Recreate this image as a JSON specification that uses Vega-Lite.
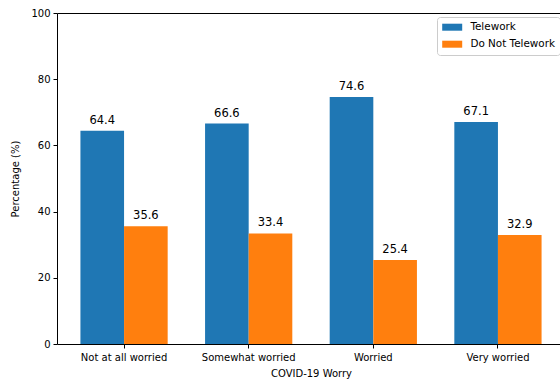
{
  "$schema": "https://vega.github.io/schema/vega-lite/v6.json",
  "autosize": {"type": "none"},
  "padding": {"left": 57, "top": 13, "right": 0, "bottom": 39},
  "width": 503,
  "height": 331,
  "config": {
    "font": "DejaVu Sans",
    "view": {"stroke": null},
    "axis": {
      "grid": false,
      "domainColor": "#000000",
      "domainWidth": 1,
      "tickColor": "#000000",
      "tickSize": 4,
      "labelColor": "#000000",
      "labelFontSize": 10,
      "titleFontSize": 10,
      "titleFontWeight": "normal",
      "titleColor": "#000000"
    },
    "legend": {
      "labelFontSize": 10,
      "labelColor": "#000000"
    }
  },
  "data": {
    "values": [
      {"worry": "Not at all worried", "group": "Telework", "pct": 64.4},
      {"worry": "Not at all worried", "group": "Do Not Telework", "pct": 35.6},
      {"worry": "Somewhat worried", "group": "Telework", "pct": 66.6},
      {"worry": "Somewhat worried", "group": "Do Not Telework", "pct": 33.4},
      {"worry": "Worried", "group": "Telework", "pct": 74.6},
      {"worry": "Worried", "group": "Do Not Telework", "pct": 25.4},
      {"worry": "Very worried", "group": "Telework", "pct": 67.1},
      {"worry": "Very worried", "group": "Do Not Telework", "pct": 32.9}
    ]
  },
  "resolve": {"axis": {"x": "independent"}},
  "layer": [
    {
      "mark": {"type": "bar"},
      "encoding": {
        "x": {
          "field": "worry",
          "type": "nominal",
          "sort": ["Not at all worried", "Somewhat worried", "Worried", "Very worried"],
          "scale": {"range": [0, 508], "paddingInner": 0.3, "paddingOuter": 0.188},
          "axis": {"title": "COVID-19 Worry", "labelAngle": 0, "labelPadding": 4, "titlePadding": 6}
        },
        "xOffset": {
          "field": "group",
          "type": "nominal",
          "sort": ["Telework", "Do Not Telework"],
          "scale": {"paddingInner": 0, "paddingOuter": 0}
        },
        "y": {
          "field": "pct",
          "type": "quantitative",
          "scale": {"domain": [0, 100], "nice": false},
          "axis": {"title": "Percentage (%)", "values": [0, 20, 40, 60, 80, 100], "labelPadding": 3, "titlePadding": 10}
        },
        "color": {
          "field": "group",
          "type": "nominal",
          "sort": ["Telework", "Do Not Telework"],
          "scale": {"domain": ["Telework", "Do Not Telework"], "range": ["#1f77b4", "#ff7f0e"]},
          "legend": {
            "title": null,
            "orient": "none",
            "legendX": 380,
            "legendY": 4,
            "symbolType": "M-1.25,-0.875H3.75V0.875H-1.25Z",
            "symbolSize": 64,
            "symbolStrokeWidth": 0,
            "symbolOpacity": 1,
            "labelOffset": 18,
            "labelFontSize": 10.4,
            "rowPadding": 6,
            "padding": 5,
            "strokeColor": "#cccccc",
            "fillColor": "#ffffff",
            "cornerRadius": 3
          }
        }
      }
    },
    {
      "mark": {"type": "text", "baseline": "alphabetic", "dy": -7, "fontSize": 11.5, "color": "#000000"},
      "encoding": {
        "x": {
          "field": "worry",
          "type": "nominal",
          "sort": ["Not at all worried", "Somewhat worried", "Worried", "Very worried"],
          "axis": {"orient": "top", "labels": false, "ticks": false, "title": null, "domain": true}
        },
        "xOffset": {
          "field": "group",
          "type": "nominal",
          "sort": ["Telework", "Do Not Telework"]
        },
        "y": {"field": "pct", "type": "quantitative"},
        "text": {"field": "pct", "type": "quantitative", "format": ".1f"}
      }
    }
  ]
}
